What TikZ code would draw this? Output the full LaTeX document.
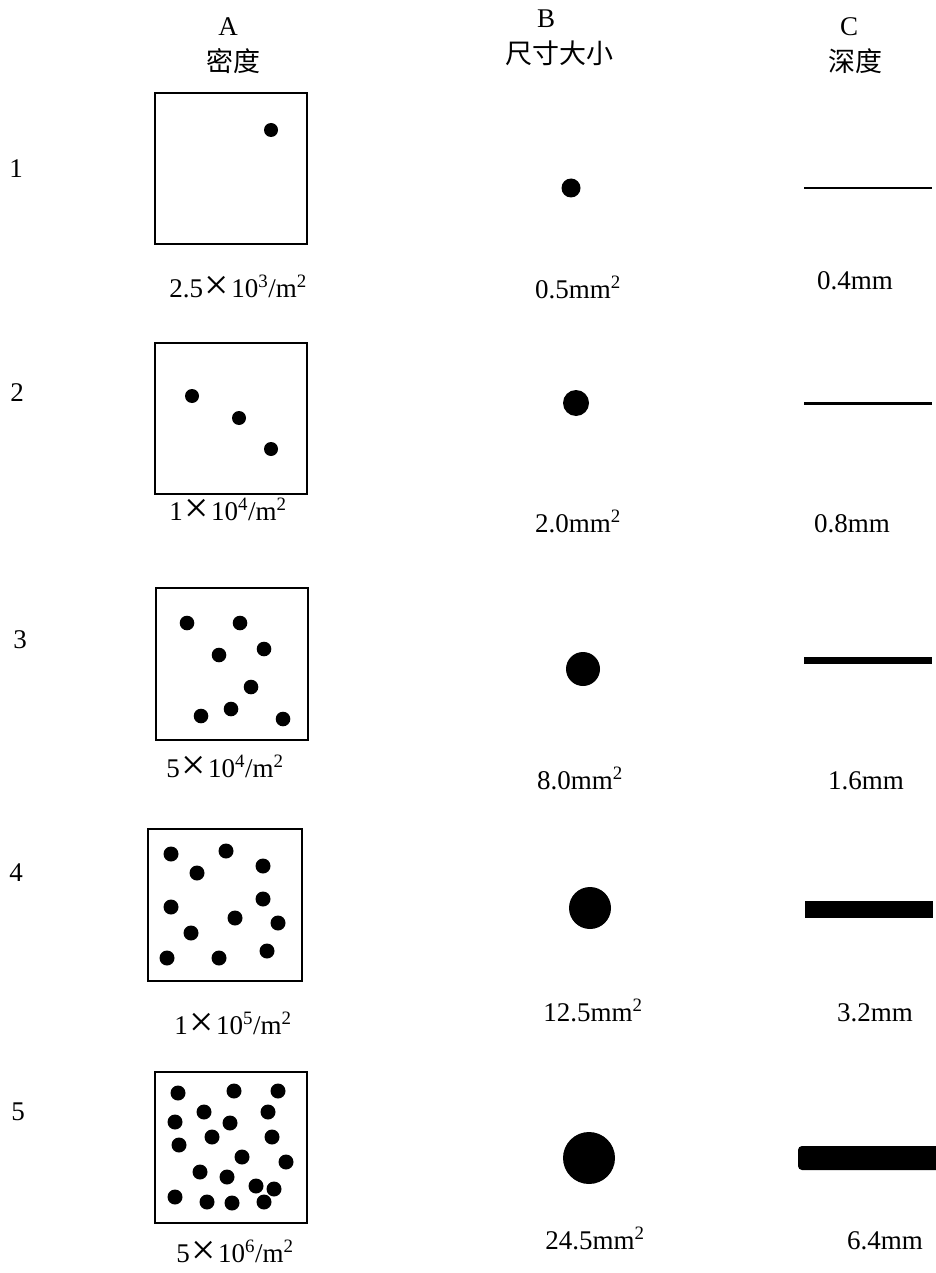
\documentclass[tikz,border=0pt]{standalone}
\usepackage{fontspec}
\setmainfont{Liberation Serif}
\newfontfamily\cjk{Noto Sans CJK SC}
\newcommand{\tms}{\makebox[1.05em]{\raisebox{-0.08em}{\scalebox{1.6}{×}}}}
\begin{document}
\begin{tikzpicture}[x=1pt,y=-1pt,
  txt/.style={inner sep=0pt,font=\fontsize{27}{31}\selectfont},
  val/.style={txt,anchor=base},
  box/.style={draw,line width=2pt},
  dot/.style={fill=black}]
\useasboundingbox (0,0) rectangle (936,1273);
% headers
\node[txt] (hA) at (228,27) {A};
\node[txt] (hA2) at (233,61) {\cjk 密度};
\node[txt] (hB) at (546,19) {B};
\node[txt] (hB2) at (559,53) {\cjk 尺寸大小};
\node[txt] (hC) at (849,27) {C};
\node[txt] (hC2) at (855,61) {\cjk 深度};
% row numbers
\node[txt] (r1) at (16,169) {1};
\node[txt] (r2) at (17,393) {2};
\node[txt] (r3) at (20,640) {3};
\node[txt] (r4) at (16,873) {4};
\node[txt] (r5) at (18,1112) {5};
% column A squares
\draw[box] (155,93) rectangle (307,244);
\fill[dot] (271,130) circle (7);
\node[val] (a1) at (238,297) {2.5\tms10\textsuperscript{3}/m\textsuperscript{2}};

\draw[box] (155,343) rectangle (307,494);
\foreach \p in {(192,396),(239,418),(271,449)} \fill[dot] \p circle (7);
\node[val] (a2) at (228,520) {1\tms10\textsuperscript{4}/m\textsuperscript{2}};

\draw[box] (156,588) rectangle (308,740);
\foreach \p in {(187,623),(240,623),(219,655),(264,649),(251,687),(201,716),(231,709),(283,719)} \fill[dot] \p circle (7.3);
\node[val] (a3) at (225,777) {5\tms10\textsuperscript{4}/m\textsuperscript{2}};

\draw[box] (148,829) rectangle (302,981);
\foreach \p in {(171,854),(226,851),(197,873),(263,866),(171,907),(263,899),(235,918),(278,923),(191,933),(167,958),(219,958),(267,951)} \fill[dot] \p circle (7.5);
\node[val] (a4) at (233,1034) {1\tms10\textsuperscript{5}/m\textsuperscript{2}};

\draw[box] (155,1072) rectangle (307,1223);
\foreach \p in {(178,1093),(234,1091),(278,1091),(204,1112),(268,1112),(175,1122),(230,1123),(212,1137),(272,1137),(179,1145),(242,1157),(286,1162),(200,1172),(227,1177),(256,1186),(274,1189),(175,1197),(207,1202),(232,1203),(264,1202)} \fill[dot] \p circle (7.5);
\node[val] (a5) at (235,1262) {5\tms10\textsuperscript{6}/m\textsuperscript{2}};
% column B
\fill[dot] (571,188) circle (9.5);
\node[val] (b1) at (578,298) {0.5mm\textsuperscript{2}};
\fill[dot] (576,403) circle (13);
\node[val] (b2) at (578,532) {2.0mm\textsuperscript{2}};
\fill[dot] (583,669) circle (17);
\node[val] (b3) at (580,789) {8.0mm\textsuperscript{2}};
\fill[dot] (590,908) circle (21);
\node[val] (b4) at (593,1021) {12.5mm\textsuperscript{2}};
\fill[dot] (589,1158) circle (26);
\node[val] (b5) at (595,1249) {24.5mm\textsuperscript{2}};
% column C
\fill[dot] (804,187) rectangle (932,189.5);
\node[val] (c1) at (855,289) {0.4mm};
\fill[dot] (804,401.5) rectangle (932,405);
\node[val] (c2) at (852,532) {0.8mm};
\fill[dot] (804,657) rectangle (932,664);
\node[val] (c3) at (866,789) {1.6mm};
\fill[dot] (805,901) rectangle (933,918);
\node[val] (c4) at (875,1021) {3.2mm};
\fill[dot,rounded corners=4pt] (798,1146) rectangle (945,1170);
\node[val] (c5) at (885,1249) {6.4mm};
\end{tikzpicture}
\end{document}
